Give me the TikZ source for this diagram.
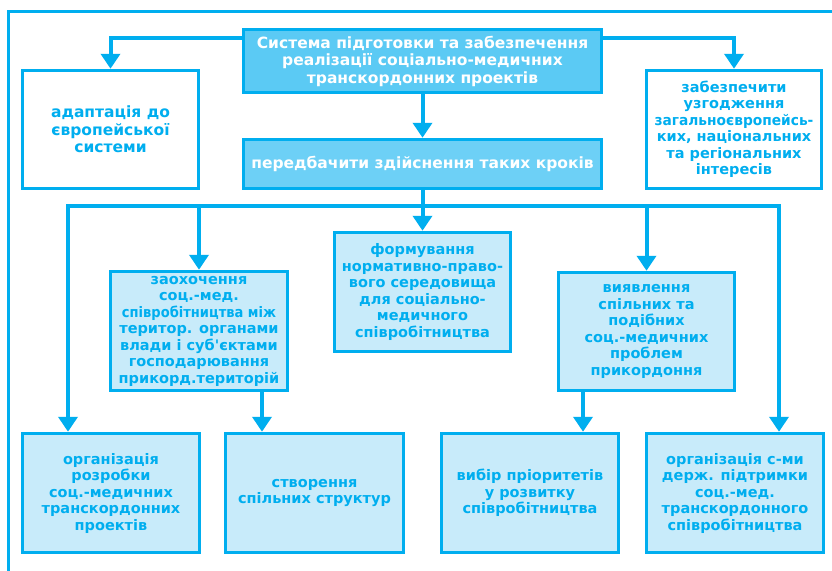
\documentclass[tikz,border=0pt]{standalone}
\usepackage{fontspec}
\usepackage{graphicx}
\setmainfont{DejaVu Sans}
\usetikzlibrary{arrows.meta}
\definecolor{cy}{HTML}{00AEEF}
\definecolor{topfill}{HTML}{5BCAF4}
\definecolor{stepfill}{HTML}{6DD0F6}
\definecolor{lightfill}{HTML}{C8EBFA}
\tikzset{
  box/.style={draw=cy, line width=3.5pt, inner sep=0pt, align=center,
    font=\bfseries\fontsize{14.5}{16.5}\selectfont, text=cy},
  bigtext/.style={font=\bfseries\fontsize{15.5}{17.5}\selectfont},
  darkbox/.style={box, bigtext, fill=topfill, text=white},
  stepbox/.style={box, bigtext, fill=stepfill, text=white},
  whitebox/.style={box, fill=white},
  lightbox/.style={box, fill=lightfill},
  conn/.style={draw=cy, line width=4pt},
  arr/.style={conn, -{Triangle[width=19pt,length=15pt]}},
  frame/.style={draw=cy, line width=3pt}
}
\begin{document}
\begin{tikzpicture}[x=1pt,y=-1pt]
\useasboundingbox (0,0) rectangle (832,570);
\fill[white] (0,0) rectangle (832,570);
\draw[frame] (8,580) -- (8,11) -- (845,11);

\node[darkbox, minimum width=358, minimum height=63] (top) at (422.5,61)
  {Система підготовки та забезпечення\\реалізації соціально-медичних\\транскордонних проектів};
\node[stepbox, minimum width=358, minimum height=49] (steps) at (422.5,164)
  {передбачити здійснення таких кроків};
\node[whitebox, bigtext, minimum width=176, minimum height=118] (adapt) at (110.5,129.5)
  {адаптація до\\європейської\\системи};
\node[whitebox, minimum width=175, minimum height=118] (ensure) at (734,129.5)
  {забезпечити\\узгодження\\\scalebox{0.95}[1]{загальноєвропейсь-}\\ких, національних\\та регіональних\\інтересів};

\node[lightbox, minimum width=177, minimum height=119] (m1) at (199,331)
  {заохочення\\соц.-мед.\\\scalebox{0.9}[1]{співробітництва між}\\територ. органами\\влади і суб\textquotesingle єктами\\господарювання\\прикорд.територій};
\node[lightbox, minimum width=176, minimum height=119] (m2) at (422.5,292)
  {формування\\нормативно-право-\\вого середовища\\для соціально-\\медичного\\співробітництва};
\node[lightbox, minimum width=176, minimum height=118] (m3) at (646.5,331.5)
  {виявлення\\спільних та\\подібних\\соц.-медичних\\проблем\\прикордоння};

\node[lightbox, minimum width=177, minimum height=119] (b1) at (111,493)
  {організація\\розробки\\соц.-медичних\\транскордонних\\проектів};
\node[lightbox, minimum width=178, minimum height=119] (b2) at (314.5,493)
  {створення\\спільних структур};
\node[lightbox, minimum width=177, minimum height=119] (b3) at (530,493)
  {вибір пріоритетів\\у розвитку\\співробітництва};
\node[lightbox, minimum width=177, minimum height=119] (b4) at (735,493)
  {організація с-ми\\держ. підтримки\\соц.-мед.\\транскордонного\\співробітництва};

\coordinate (bus) at (0,206);
\coordinate (busL) at (68,206);
\coordinate (busR) at (779,206);

\draw[arr] (top.west |- 0,38) -| (adapt.north);
\draw[arr] (top.east |- 0,38) -| (ensure.north);
\draw[arr] (top.south) -- (steps.north);

\draw[conn] (steps.south) -- (steps.south |- bus);
\draw[conn, line cap=rect] (busL) -- (busR);
\draw[arr] (busL) -- (b1.north -| busL);
\draw[arr] (m1.north |- bus) -- (m1.north);
\draw[arr] (steps.south |- bus) -- (m2.north);
\draw[arr] (m3.north |- bus) -- (m3.north);
\draw[arr] (busR) -- (b4.north -| busR);

\coordinate (m1out) at (262,0);
\coordinate (m3out) at (583,0);
\draw[arr] (m1.south -| m1out) -- (b2.north -| m1out);
\draw[arr] (m3.south -| m3out) -- (b3.north -| m3out);
\end{tikzpicture}
\end{document}
